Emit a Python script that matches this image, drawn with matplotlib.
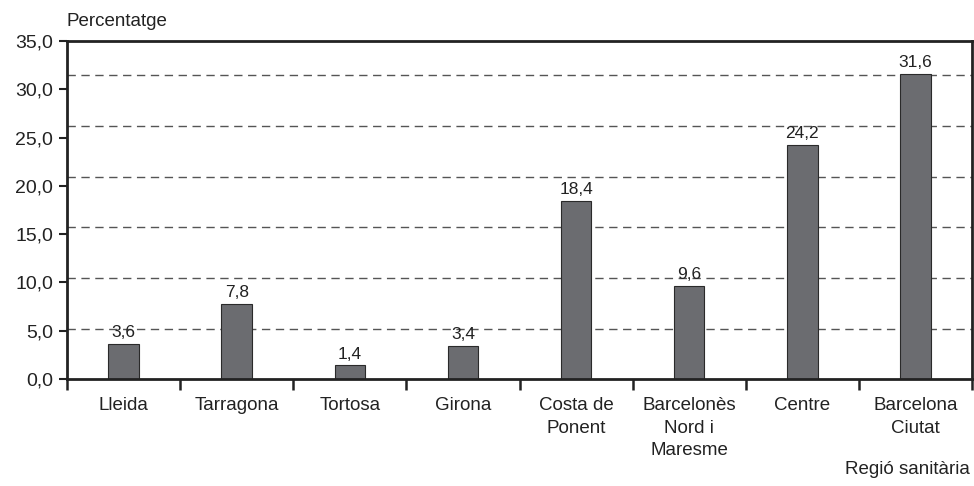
import matplotlib
matplotlib.use("Agg")
import matplotlib.pyplot as plt
from matplotlib.ticker import FixedLocator, FuncFormatter

plt.rcParams["font.family"] = ["Liberation Sans", "DejaVu Sans"]

regions = ["Lleida", "Tarragona", "Tortosa", "Girona", "Costa de\nPonent",
           "Barcelonès\nNord i\nMaresme", "Centre", "Barcelona\nCiutat"]
values = [3.6, 7.8, 1.4, 3.4, 18.4, 9.6, 24.2, 31.6]
y_ticks = [0, 5, 10, 15, 20, 25, 30, 35]
grid_levels = [5.2, 10.45, 15.7, 20.95, 26.2, 31.45]

def comma(v, _=None):
    return f"{v:.1f}".replace(".", ",")

fig = plt.figure(figsize=(9.74, 4.86), dpi=100)
ax = fig.add_axes([67 / 974, 1 - 379 / 486, (972 - 67) / 974, (379 - 41) / 486])

x = list(range(len(regions)))
for g in grid_levels:
    ax.axhline(g, color="#555555", lw=1.0, ls=(0, (6, 4)), zorder=1)

ax.bar(x, values, width=0.27, color="#6b6c70", edgecolor="#2a2a2a",
       linewidth=0.8, zorder=2)
for xi, v in zip(x, values):
    ax.text(xi, v + 0.4, comma(v), ha="center", va="bottom", fontsize=12.5,
            color="#222222", zorder=3)

ax.set_xlim(-0.5, len(regions) - 0.5)
ax.set_ylim(0, 35)
ax.yaxis.set_major_locator(FixedLocator(y_ticks))
ax.yaxis.set_major_formatter(FuncFormatter(comma))
ax.tick_params(axis="y", direction="out", length=6, width=1.5, labelsize=14,
               pad=4, colors="#222222")

ax.set_xticks(x)
ax.set_xticklabels(regions, fontsize=13.5, color="#222222", linespacing=1.42)
ax.tick_params(axis="x", which="major", length=0, pad=13)
ax.set_xticks([i - 0.5 for i in range(len(regions) + 1)], minor=True)
ax.tick_params(axis="x", which="minor", direction="out", length=8, width=1.8,
               color="#222222")

for s in ax.spines.values():
    s.set_linewidth(2.0)
    s.set_color("#222222")

fig.text(67 / 974, 1 - 22 / 486, "Percentatge", fontsize=13.5, ha="left",
         va="center", color="#222222")
fig.text(970 / 974, 1 - 469 / 486, "Regió sanitària", fontsize=13.5, ha="right",
         va="center", color="#222222")

fig.savefig("out.png", dpi=100, facecolor="white")
